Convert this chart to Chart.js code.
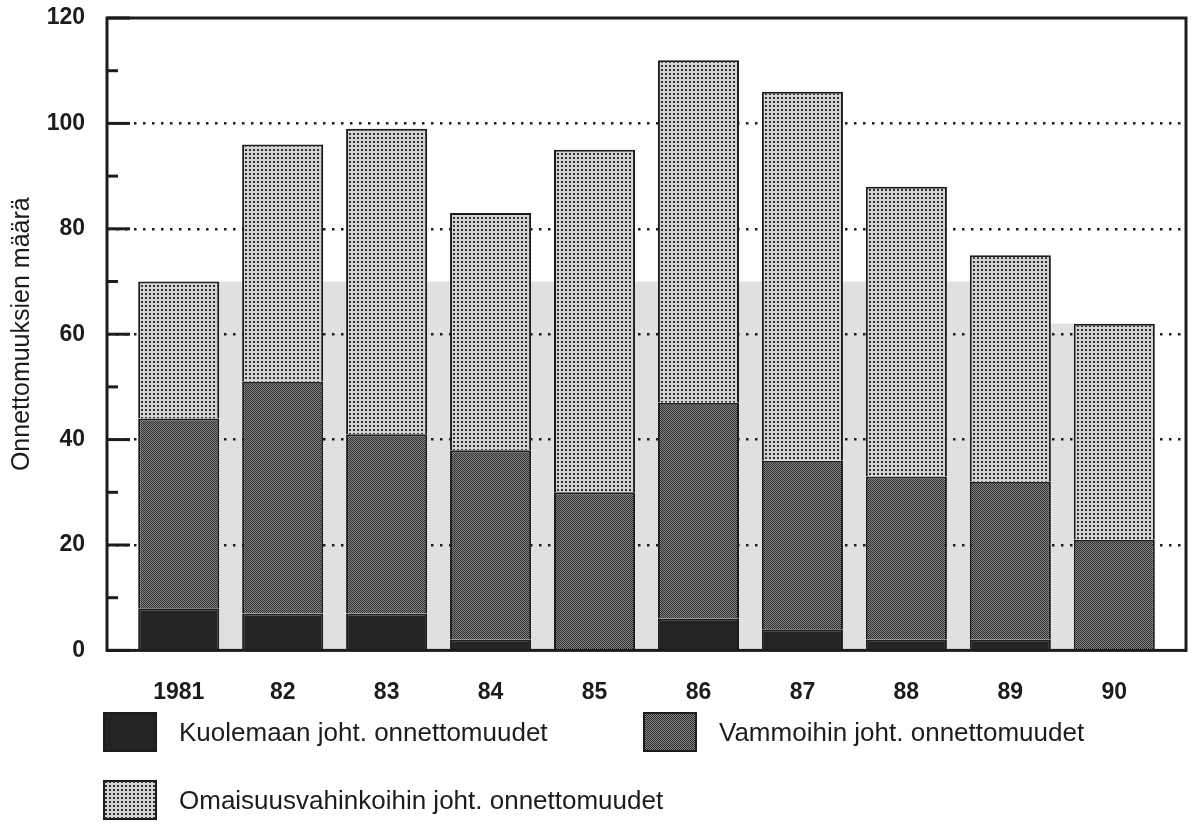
<!DOCTYPE html>
<html lang="fi">
<head>
<meta charset="utf-8">
<title>Onnettomuudet 1981–90</title>
<script src="https://cdn.jsdelivr.net/npm/chart.js@4.4.0/dist/chart.umd.min.js"></script>
<style>
  html, body { margin: 0; padding: 0; background: #fff; }
</style>
</head>
<body>
<canvas id="onnettomuudet" width="1192" height="830"></canvas>
<script>
const years = ['1981', '82', '83', '84', '85', '86', '87', '88', '89', '90'];
const kuolemaan = [8, 7, 7, 2, 0, 6, 4, 2, 2, 0];
const vammoihin = [36, 44, 34, 36, 30, 41, 32, 31, 30, 21];
const omaisuus = [26, 45, 58, 45, 65, 65, 70, 55, 43, 41];
const yTicks = [0, 20, 40, 60, 80, 100, 120];

const ink = '#1c1c1c';
const font = '"Liberation Sans", Arial, Helvetica, sans-serif';

// small repeating rasters for the halftone fills
function pattern(w, h, bg, fg, dots) {
  const c = document.createElement('canvas');
  c.width = w; c.height = h;
  const g = c.getContext('2d');
  g.fillStyle = bg;
  g.fillRect(0, 0, w, h);
  g.fillStyle = fg;
  dots.forEach(([x, y, dw, dh]) => g.fillRect(x, y, dw, dh));
  return g.createPattern(c, 'repeat');
}
const fillDeath = '#242424';
const fillInjury = pattern(2, 2, '#888888', '#2a2a2a', [[0, 0, 1, 1], [1, 1, 1, 1]]);
const fillProperty = pattern(4, 4, '#d4d4d4', '#303030', [[1, 1, 2, 2]]);

const toPoints = arr => arr.map((v, i) => ({ x: i, y: v }));

// light strips between neighbouring columns (lower part only), under the grid
const gapShade = {
  id: 'gapShade',
  beforeDraw(chart) {
    const bars = chart.getDatasetMeta(2).data;
    const { ctx, chartArea, scales } = chart;
    const cap = scales.y.getPixelForValue(70);
    ctx.save();
    ctx.fillStyle = '#e0e0e0';
    for (let i = 0; i < bars.length - 1; i++) {
      const a = bars[i], b = bars[i + 1];
      const left = a.x + a.width / 2;
      const right = b.x - b.width / 2;
      const top = Math.max(a.y, b.y, cap);
      ctx.fillRect(left, top, right - left, chartArea.bottom - top);
    }
    ctx.restore();
  }
};

// frame, inward tick marks and the legend blocks
const frame = {
  id: 'frame',
  afterDraw(chart) {
    const { ctx, chartArea: a, scales } = chart;
    const y = scales.y;
    ctx.save();
    ctx.strokeStyle = ink;
    ctx.lineWidth = 3;
    for (let v = y.min; v <= y.max; v += 10) {
      const py = y.getPixelForValue(v);
      const len = v % 20 === 0 ? 23 : 11;
      ctx.beginPath();
      ctx.moveTo(a.left, py);
      ctx.lineTo(a.left + len, py);
      ctx.stroke();
    }
    ctx.strokeRect(a.left, a.top, a.right - a.left, a.bottom - a.top);

    const spots = [[103, 712], [643, 712], [103, 780]];
    ctx.font = '26px ' + font;
    ctx.textBaseline = 'middle';
    chart.data.datasets.forEach((ds, i) => {
      const [x, y0] = spots[i];
      ctx.fillStyle = ds.backgroundColor;
      ctx.fillRect(x, y0, 54, 40);
      ctx.lineWidth = 2;
      ctx.strokeRect(x + 1, y0 + 1, 52, 38);
      ctx.fillStyle = ink;
      ctx.fillText(ds.label, x + 76, y0 + 22);
    });
    ctx.restore();
  }
};

new Chart(document.getElementById('onnettomuudet'), {
  type: 'bar',
  data: {
    datasets: [
      { label: 'Kuolemaan joht. onnettomuudet', data: toPoints(kuolemaan), backgroundColor: fillDeath },
      { label: 'Vammoihin joht. onnettomuudet', data: toPoints(vammoihin), backgroundColor: fillInjury },
      { label: 'Omaisuusvahinkoihin joht. onnettomuudet', data: toPoints(omaisuus), backgroundColor: fillProperty }
    ]
  },
  options: {
    responsive: false,
    animation: false,
    devicePixelRatio: 1,
    layout: { padding: { top: 18, right: 6, bottom: 104, left: 0 } },
    datasets: {
      bar: {
        borderColor: ink,
        borderWidth: 2,
        categoryPercentage: 1,
        barPercentage: 0.78
      }
    },
    scales: {
      x: {
        type: 'linear',
        stacked: true,
        offset: false,
        min: -0.69,
        max: 9.69,
        afterBuildTicks: s => { s.ticks = years.map((_, i) => ({ value: i })); },
        grid: { display: false },
        border: { display: false },
        ticks: {
          autoSkip: false,
          maxRotation: 0,
          padding: 20,
          color: ink,
          font: { family: font, size: 23, weight: 'bold' },
          callback: v => years[v]
        }
      },
      y: {
        stacked: true,
        min: 0,
        max: 120,
        afterBuildTicks: s => { s.ticks = yTicks.map(v => ({ value: v })); },
        afterFit: s => { s.width = 107; s.paddingTop = 0; },
        grid: {
          drawTicks: false,
          lineWidth: 2.5,
          color: c => (c.tick && c.tick.value > 0 && c.tick.value < 120) ? ink : 'rgba(0,0,0,0)'
        },
        border: { display: false, dash: [2.5, 6.5] },
        ticks: {
          padding: 22,
          color: ink,
          font: { family: font, size: 23, weight: 'bold' }
        },
        title: {
          display: true,
          text: 'Onnettomuuksien määrä',
          color: ink,
          padding: { top: 7, bottom: 0 },
          font: { family: font, size: 25 }
        }
      }
    },
    plugins: {
      legend: { display: false },
      tooltip: { enabled: false }
    }
  },
  plugins: [gapShade, frame]
});
</script>
</body>
</html>
